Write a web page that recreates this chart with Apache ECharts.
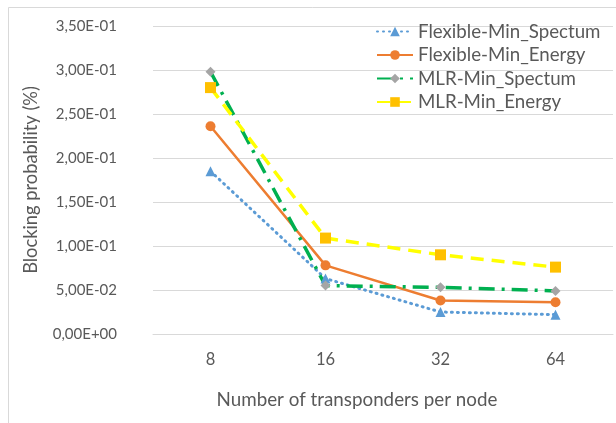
<!DOCTYPE html>
<html>
<head>
<meta charset="utf-8">
<script src="https://cdn.jsdelivr.net/npm/echarts@6/dist/echarts.min.js"></script>
<style>html,body{margin:0;padding:0;background:#fff}#c{width:616px;height:423px}</style>
</head>
<body>
<div id="c"></div>
<script>
const categories = ['8', '16', '32', '64'];
const flexMinSpectrum = [0.185, 0.063, 0.025, 0.022];
const flexMinEnergy = [0.236, 0.078, 0.038, 0.036];
const mlrMinSpectrum = [0.298, 0.055, 0.053, 0.049];
const mlrMinEnergy = [0.280, 0.109, 0.090, 0.076];
const yTickLabels = ['0,00E+00', '5,00E-02', '1,00E-01', '1,50E-01', '2,00E-01', '2,50E-01', '3,00E-01', '3,50E-01'];

const txt = '#595959';
const font = 'Lato';
const chart = echarts.init(document.getElementById('c'));
chart.setOption({
  animation: false,
  backgroundColor: '#fff',
  graphic: [{
    type: 'rect', left: 6, top: 5, shape: { width: 640, height: 416 },
    style: { fill: 'none', stroke: '#d9d9d9', lineWidth: 1 }, silent: true, z: -1
  }],
  grid: { left: 153, right: 3, top: 26, bottom: 89 },
  legend: {
    orient: 'vertical', left: 371, top: 17, itemWidth: 36, itemHeight: 12, itemGap: 4.5,
    textStyle: { color: txt, fontFamily: font, fontSize: 18.7, lineHeight: 18.7 },
    data: ['Flexible-Min_Spectum', 'Flexible-Min_Energy', 'MLR-Min_Spectum', 'MLR-Min_Energy']
  },
  xAxis: {
    type: 'category', data: categories, boundaryGap: true,
    name: 'Number of transponders per node', nameLocation: 'middle', nameGap: 56,
    nameTextStyle: { color: txt, fontFamily: font, fontSize: 18.8, padding: [0, 52, 0, 0] },
    axisLine: { lineStyle: { color: '#d9d9d9' } }, axisTick: { show: false },
    axisLabel: { color: txt, fontFamily: font, fontSize: 16.5, margin: 17 }
  },
  yAxis: {
    type: 'value', min: 0, max: 0.35, interval: 0.05,
    name: 'Blocking probability (%)', nameLocation: 'middle', nameGap: 113, nameRotate: 90,
    nameTextStyle: { color: txt, fontFamily: font, fontSize: 18.3 },
    axisLine: { show: false }, axisTick: { show: false },
    splitLine: { lineStyle: { color: '#d9d9d9' } },
    axisLabel: { color: txt, fontFamily: font, fontSize: 15, margin: 36,
      formatter: v => yTickLabels[Math.round(v / 0.05)] }
  },
  series: [
    { name: 'Flexible-Min_Spectum', type: 'line', data: flexMinSpectrum, symbol: 'triangle', symbolSize: 10,
      itemStyle: { color: '#5B9BD5' }, lineStyle: { color: '#5B9BD5', width: 3, type: [1, 5], cap: 'round' } },
    { name: 'Flexible-Min_Energy', type: 'line', data: flexMinEnergy, symbol: 'circle', symbolSize: 10,
      itemStyle: { color: '#ED7D31' }, lineStyle: { color: '#ED7D31', width: 2.5 } },
    { name: 'MLR-Min_Spectum', type: 'line', data: mlrMinSpectrum, symbol: 'diamond', symbolSize: 10,
      itemStyle: { color: '#A5A5A5' }, lineStyle: { color: '#00B050', width: 3.5, type: [16, 7, 3, 7] } },
    { name: 'MLR-Min_Energy', type: 'line', data: mlrMinEnergy, symbol: 'rect', symbolSize: 11,
      itemStyle: { color: '#FFC000' }, lineStyle: { color: '#FFFF00', width: 3.5, type: [13, 8] } }
  ]
});
</script>
</body>
</html>
